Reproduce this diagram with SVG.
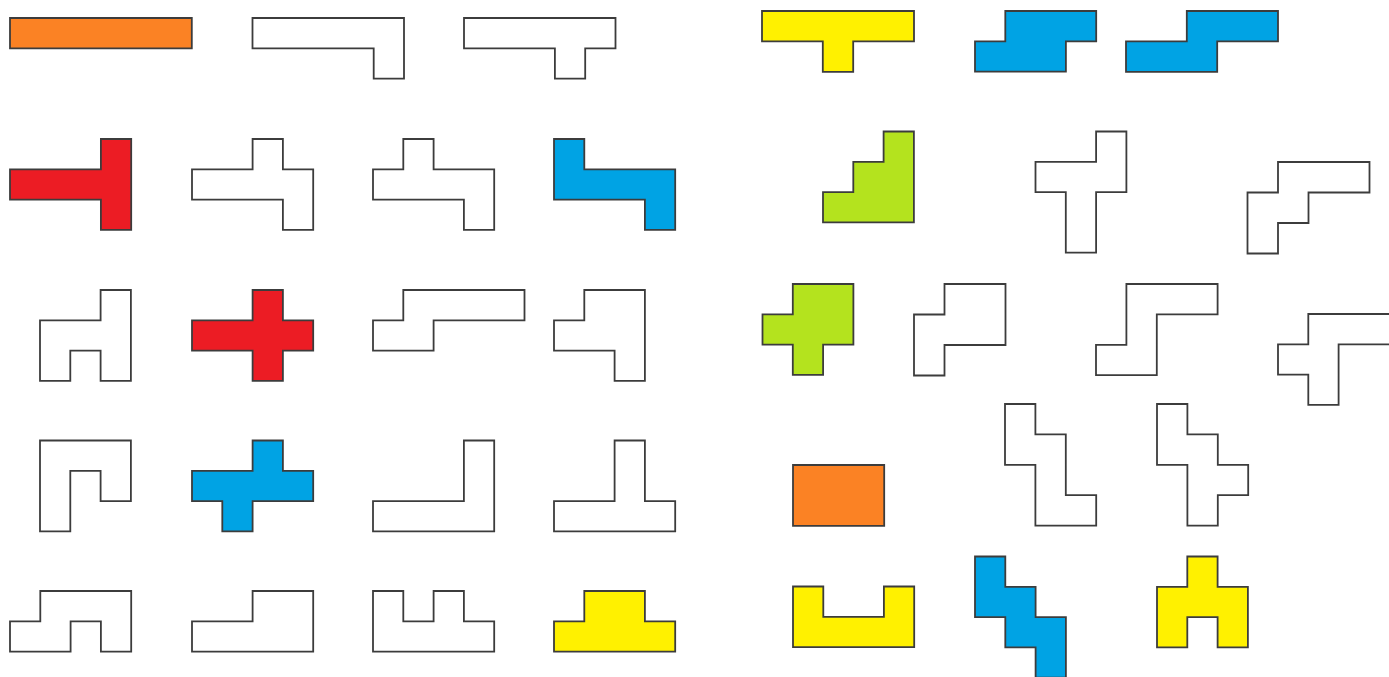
<svg xmlns="http://www.w3.org/2000/svg" width="1389" height="677" viewBox="0 0 1389 677">
<style>
path{fill:#fff;stroke:#3c3c3c;stroke-width:1.8;stroke-linejoin:miter;vector-effect:non-scaling-stroke}
.o path{fill:#fb8224}.r path{fill:#ec1c24}.b path{fill:#00a3e4}.y path{fill:#fff100}.g path{fill:#b4e31e}
</style>
<rect width="1389" height="677" fill="#fff"/>
<g id="p1" class="o" transform="translate(10,18) scale(30.3)"><path d="M0 0H6V1H0Z"/></g>
<g id="p2" transform="translate(252.5,18) scale(30.3)"><path d="M0 0H5V2H4V1H0Z"/></g>
<g id="p3" transform="translate(464,18) scale(30.3)"><path d="M0 0H5V1H4V2H3V1H0Z"/></g>
<g id="p4" class="r" transform="translate(10,139) scale(30.3)"><path d="M3 0H4V3H3V2H0V1H3Z"/></g>
<g id="p5" transform="translate(192,139) scale(30.3)"><path d="M2 0H3V1H4V3H3V2H0V1H2Z"/></g>
<g id="p6" transform="translate(373,139) scale(30.3)"><path d="M1 0H2V1H4V3H3V2H0V1H1Z"/></g>
<g id="p7" class="b" transform="translate(554,139) scale(30.3)"><path d="M0 0H1V1H4V3H3V2H0Z"/></g>
<g id="p8" transform="translate(40,290) scale(30.3)"><path d="M2 0H3V3H2V2H1V3H0V1H2Z"/></g>
<g id="p9" class="r" transform="translate(192,290) scale(30.3)"><path d="M2 0H3V1H4V2H3V3H2V2H0V1H2Z"/></g>
<g id="p10" transform="translate(373,290) scale(30.3)"><path d="M1 0H5V1H2V2H0V1H1Z"/></g>
<g id="p11" transform="translate(554,290) scale(30.3)"><path d="M1 0H3V3H2V2H0V1H1Z"/></g>
<g id="p12" transform="translate(40,440.5) scale(30.3)"><path d="M0 0H3V2H2V1H1V3H0Z"/></g>
<g id="p13" class="b" transform="translate(192,440.5) scale(30.3)"><path d="M2 0H3V1H4V2H2V3H1V2H0V1H2Z"/></g>
<g id="p14" transform="translate(373,440.5) scale(30.3)"><path d="M3 0H4V3H0V2H3Z"/></g>
<g id="p15" transform="translate(554,440.5) scale(30.3)"><path d="M2 0H3V2H4V3H0V2H2Z"/></g>
<g id="p16" transform="translate(10,591) scale(30.3)"><path d="M1 0H4V2H3V1H2V2H0V1H1Z"/></g>
<g id="p17" transform="translate(192,591) scale(30.3)"><path d="M2 0H4V2H0V1H2Z"/></g>
<g id="p18" transform="translate(373,591) scale(30.3)"><path d="M0 0H1V1H2V0H3V1H4V2H0Z"/></g>
<g id="p19" class="y" transform="translate(554,591) scale(30.3)"><path d="M1 0H3V1H4V2H0V1H1Z"/></g>
<g id="p20" class="y" transform="translate(762,11) scale(30.4)"><path d="M0 0H5V1H3V2H2V1H0Z"/></g>
<g id="p21" class="b" transform="translate(975,11) scale(30.3)"><path d="M1 0H4V1H3V2H0V1H1Z"/></g>
<g id="p22" class="b" transform="translate(1126,11) scale(30.4)"><path d="M2 0H5V1H3V2H0V1H2Z"/></g>
<g id="p23" class="g" transform="translate(823,131.5) scale(30.3)"><path d="M2 0H3V3H0V2H1V1H2Z"/></g>
<g id="p24" transform="translate(1035.5,131.5) scale(30.3)"><path d="M2 0H3V2H2V4H1V2H0V1H2Z"/></g>
<g id="p25" transform="translate(1247.5,162) scale(30.5)"><path d="M1 0H4V1H2V2H1V3H0V1H1Z"/></g>
<g id="p26" class="g" transform="translate(762.5,284) scale(30.3)"><path d="M1 0H3V2H2V3H1V2H0V1H1Z"/></g>
<g id="p27" transform="translate(914,284) scale(30.5)"><path d="M1 0H3V2H1V3H0V1H1Z"/></g>
<g id="p28" transform="translate(1096,284) scale(30.4)"><path d="M1 0H4V1H2V3H0V2H1Z"/></g>
<g id="p29" transform="translate(1278,314) scale(30.3)"><path d="M1 0H4V1H2V3H1V2H0V1H1Z"/></g>
<g id="p30" class="o" transform="translate(793,465) scale(30.4)"><path d="M0 0H3V2H0Z"/></g>
<g id="p31" transform="translate(1005,404) scale(30.4)"><path d="M0 0H1V1H2V3H3V4H1V2H0Z"/></g>
<g id="p32" transform="translate(1157,404) scale(30.4)"><path d="M0 0H1V1H2V2H3V3H2V4H1V2H0Z"/></g>
<g id="p33" class="y" transform="translate(793,586.5) scale(30.3)"><path d="M0 0H1V1H3V0H4V2H0Z"/></g>
<g id="p34" class="b" transform="translate(975,556.5) scale(30.3)"><path d="M0 0H1V1H2V2H3V4H2V3H1V2H0Z"/></g>
<g id="p35" class="y" transform="translate(1157,556.5) scale(30.3)"><path d="M1 0H2V1H3V3H2V2H1V3H0V1H1Z"/></g>
<g id="connectors"/>
</svg>
